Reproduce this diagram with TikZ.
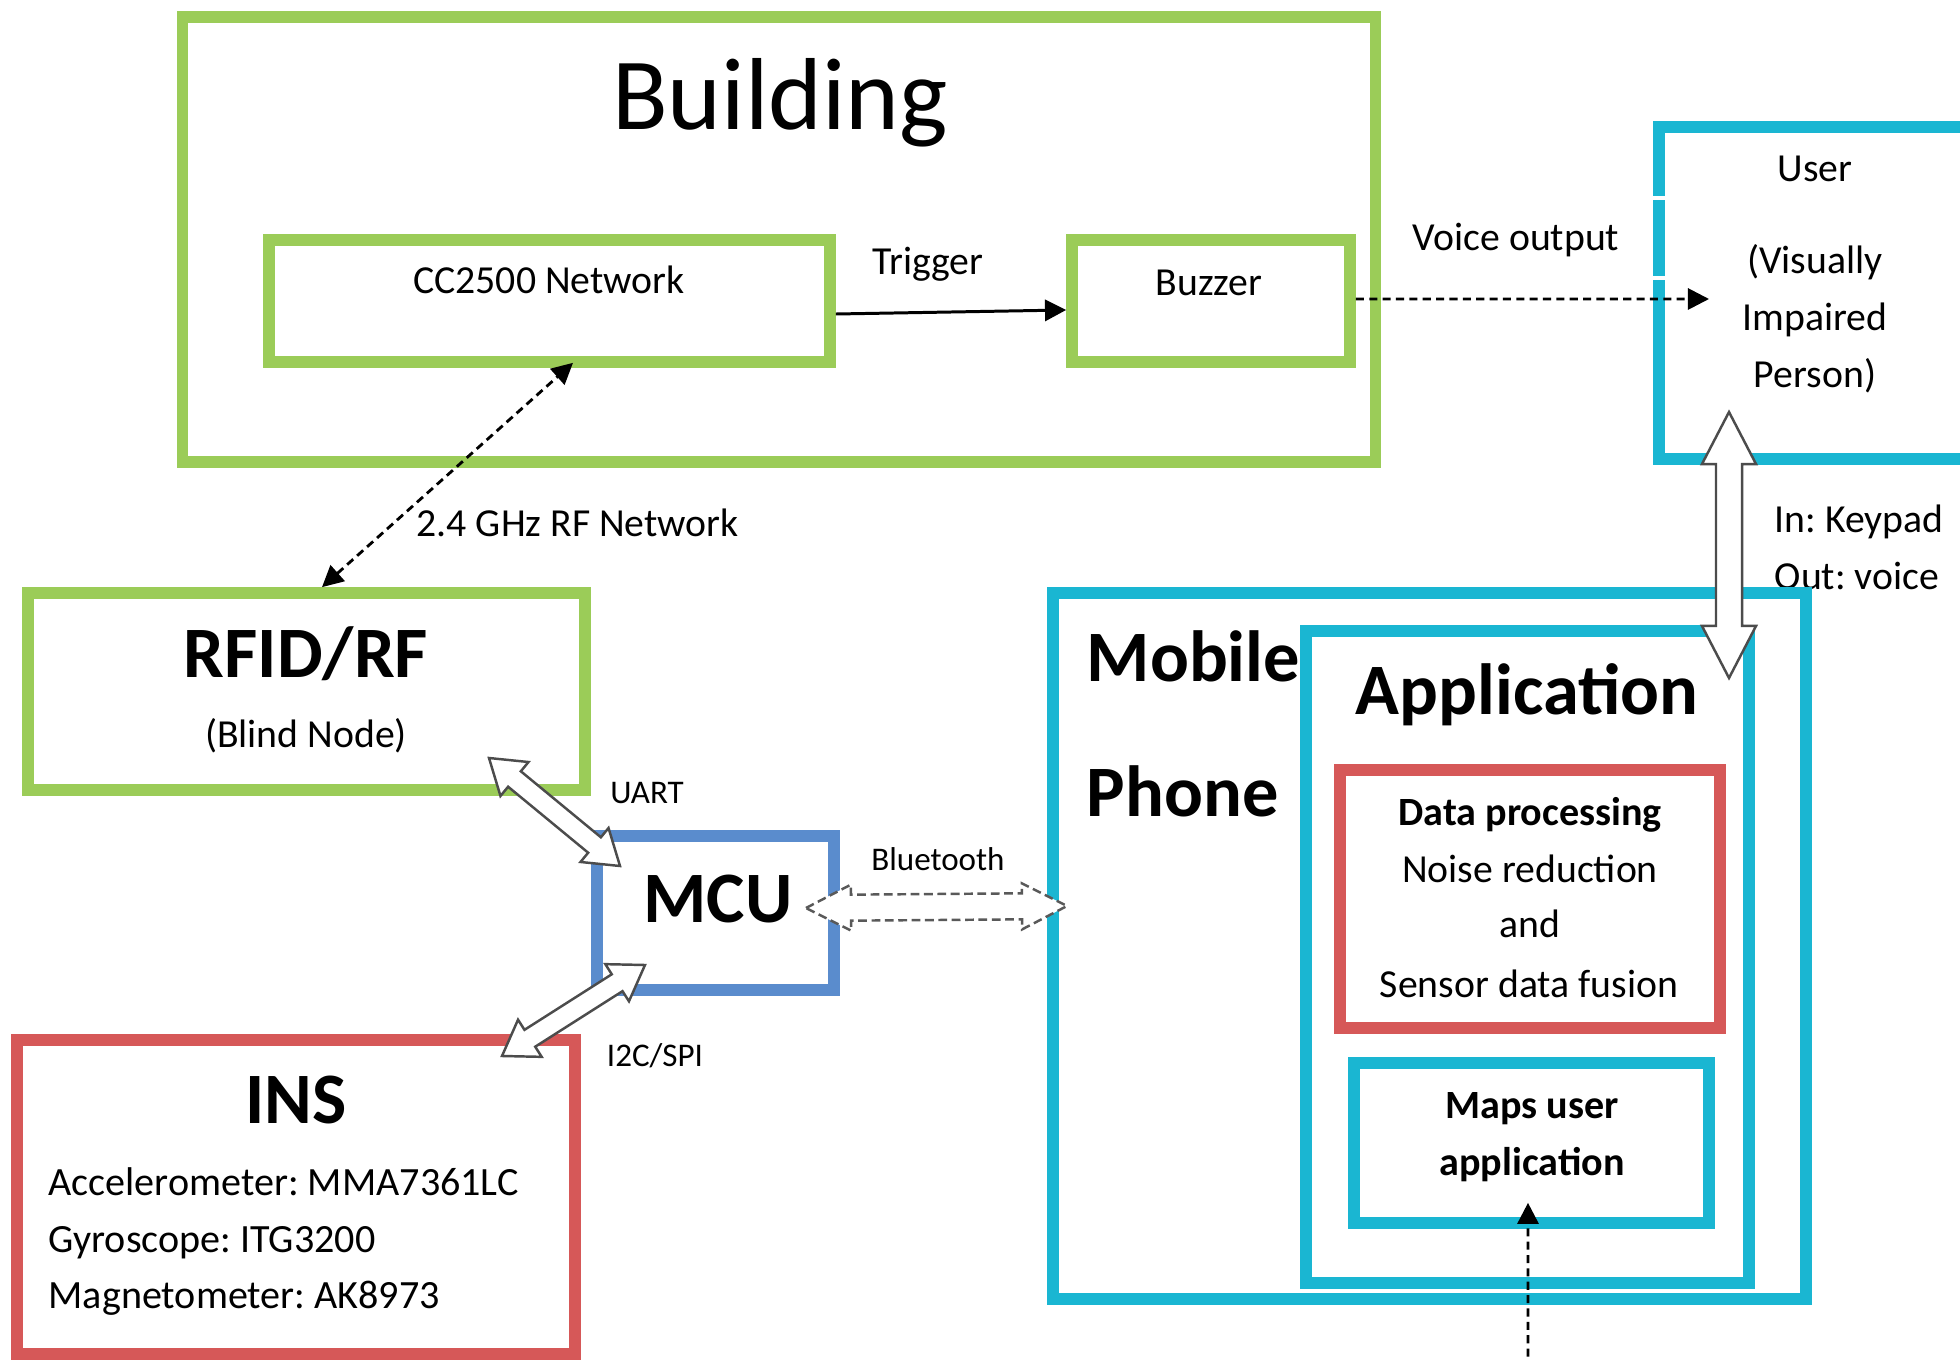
\documentclass[tikz,border=0pt]{standalone}
\usepackage{fontspec}
\setmainfont{Carlito}
\usetikzlibrary{calc,arrows.meta}
\frenchspacing
\definecolor{cgreen}{RGB}{155,204,88}
\definecolor{cred}{RGB}{214,88,88}
\definecolor{ccyan}{RGB}{26,182,210}
\definecolor{cblue}{RGB}{90,140,205}
\newcommand{\hollowarrow}[6]{%
  \coordinate (ha) at ($(#1)!#5!(#2)$);
  \coordinate (hb) at ($(#2)!#5!(#1)$);
  \draw[#6] (#1) -- ($(ha)!#4!90:(#2)$) -- ($(ha)!#3!90:(#2)$) -- ($(hb)!#3!-90:(#1)$) -- ($(hb)!#4!-90:(#1)$) -- (#2) -- ($(hb)!#4!90:(#1)$) -- ($(hb)!#3!90:(#1)$) -- ($(ha)!#3!-90:(#2)$) -- ($(ha)!#4!-90:(#2)$) -- cycle;}
\tikzset{
  box/.style={rectangle, draw, line width=3.3pt, inner sep=0pt},
  gbox/.style={box, draw=cgreen},
  rbox/.style={box, draw=cred},
  cbox/.style={box, draw=ccyan},
  bbox/.style={box, draw=cblue},
  titletxt/.style={font=\fontsize{29.1}{34}\selectfont, inner sep=0pt, anchor=base},
  bigtxt/.style={font=\fontsize{20.6}{24}\selectfont\bfseries, inner sep=0pt, anchor=base},
  normtxt/.style={font=\fontsize{11.3}{13}\selectfont, inner sep=0pt, anchor=base},
  instxt/.style={font=\fontsize{11.4}{13}\selectfont, inner sep=0pt, anchor=base west},
  boldtxt/.style={font=\fontsize{11.4}{13}\selectfont\bfseries, inner sep=0pt, anchor=base},
  smalltxt/.style={font=\fontsize{9.4}{11}\selectfont, inner sep=0pt, anchor=base},
  conn/.style={line width=0.85pt, -{Triangle[length=6pt,width=6pt]}},
  dconn/.style={line width=0.8pt, dash pattern=on 2.3pt off 1.5pt, -{Triangle[length=6pt,width=6pt]}},
  fat/.style={draw=black!70, fill=white, line width=0.7pt, line join=miter},
  fatdash/.style={draw=black!65, fill=white, line width=0.7pt, dash pattern=on 2.5pt off 1.3pt},
}
\begin{document}
\begin{tikzpicture}[x=0.01cm, y=-0.01cm]
\useasboundingbox (0,0) rectangle (1960,1361);
\clip (0,0) rectangle (1960,1361);

% Building
\node[gbox, minimum width=11.92cm, minimum height=4.45cm] (building) at (779,239.5) {};
\node[titletxt] (tbuilding) at (780,130) {Building};
\node[gbox, minimum width=5.61cm, minimum height=1.22cm] (cc2500) at (549.5,301) {};
\node[normtxt] (tcc) at (549,294) {CC2500 Network};
\node[gbox, minimum width=2.78cm, minimum height=1.22cm] (buzzer) at (1211,301) {};
\node[normtxt] (tbuzzer) at (1209,296) {Buzzer};
\node[normtxt] (ttrigger) at (928,275) {Trigger};

% User
\node[cbox, minimum width=4.41cm, minimum height=3.32cm] (user) at (1879.5,293) {};
\draw[white, line width=1.3pt] (1650,198) -- (1668,198) (1650,278) -- (1668,278);
\node[normtxt] (tuser) at (1815,182) {User};
\node[normtxt] (tvis) at (1815,274) {(Visually};
\node[normtxt] (timp) at (1815,331) {Impaired};
\node[normtxt] (tper) at (1815,388) {Person)};
\node[normtxt] (tvoice) at (1516,251) {Voice output};

% RFID
\node[gbox, minimum width=5.57cm, minimum height=1.97cm] (rfid) at (306.5,691.5) {};
\node[bigtxt] (trfid) at (306,678) {RFID/RF};
\node[normtxt] (tblind) at (306,747) {(Blind Node)};
\node[normtxt, anchor=base west] (trf) at (416,537) {2.4 GHz RF Network};

% MCU
\node[bbox, minimum width=2.37cm, minimum height=1.54cm] (mcu) at (715.5,913) {};
\node[bigtxt] (tmcu) at (718,922) {MCU};
\node[smalltxt] (tuart) at (647,803) {UART};
\node[smalltxt] (tbt) at (938,870) {Bluetooth};
\node[smalltxt] (ti2c) at (655,1066) {I2C/SPI};

% INS
\node[rbox, minimum width=5.58cm, minimum height=3.14cm] (ins) at (296,1197) {};
\node[bigtxt] (tins) at (296,1123) {INS};
\node[instxt] (tacc) at (48,1195) {Accelerometer: MMA7361LC};
\node[instxt] (tgyr) at (48,1252) {Gyroscope: ITG3200};
\node[instxt] (tmag) at (48,1308) {Magnetometer: AK8973};

% Mobile phone
\node[normtxt, anchor=base west] (tkey) at (1774,533) {In: Keypad};
\node[normtxt, anchor=base west] (tout) at (1774,590) {Out: voice};
\node[cbox, minimum width=7.53cm, minimum height=7.06cm] (mobile) at (1429.5,946) {};
\node[bigtxt, anchor=base west] (tmobile) at (1086,681) {Mobile};
\node[bigtxt, anchor=base west] (tphone) at (1086,816) {Phone};
\node[cbox, minimum width=4.43cm, minimum height=6.52cm] (app) at (1527.5,957) {};
\node[bigtxt] (tapp) at (1527,715) {Application};
\node[rbox, minimum width=3.80cm, minimum height=2.58cm] (dproc) at (1530,899) {};
\node[boldtxt] (td1) at (1530,825) {Data processing};
\node[normtxt] (td2) at (1530,882) {Noise reduction};
\node[normtxt] (td3) at (1530,937) {and};
\node[normtxt] (td4) at (1529,997) {Sensor data fusion};
\node[cbox, minimum width=3.55cm, minimum height=1.60cm] (maps) at (1531.5,1143) {};
\node[boldtxt] (tm1) at (1532,1118) {Maps user};
\node[boldtxt] (tm2) at (1532,1175) {application};

% connectors
\draw[conn] ([yshift=-0.13cm]cc2500.east) -- ([yshift=-0.09cm]buzzer.west);
\coordinate (voiceend) at (1709,299);
\draw[dconn] ([yshift=0.02cm]buzzer.east) -- (voiceend);
\draw[dconn, {Triangle[length=6pt,width=6pt]}-{Triangle[length=6pt,width=6pt]}] ([xshift=0.155cm]rfid.north) -- ([xshift=0.235cm,yshift=0.05cm]cc2500.south);
\coordinate (mapsfoot) at (1528,1370);
\draw[dconn] (mapsfoot) -- ([xshift=-0.035cm,yshift=0.26cm]maps.south);

% hollow double arrows
\coordinate (kpA) at (1729,412);
\coordinate (kpB) at (1729,678);
\hollowarrow{kpA}{kpB}{0.13cm}{0.27cm}{0.52cm}{fat}
\coordinate (uartA) at (489,758);
\coordinate (uartB) at (620,866);
\hollowarrow{uartA}{uartB}{0.10cm}{0.22cm}{0.33cm}{fat}
\coordinate (i2cA) at (645,965);
\coordinate (i2cB) at (502,1056);
\hollowarrow{i2cA}{i2cB}{0.10cm}{0.22cm}{0.33cm}{fat}
\coordinate (btA) at (806,908);
\coordinate (btB) at (1067,906);
\hollowarrow{btA}{btB}{0.13cm}{0.23cm}{0.45cm}{fatdash}
\end{tikzpicture}
\end{document}
